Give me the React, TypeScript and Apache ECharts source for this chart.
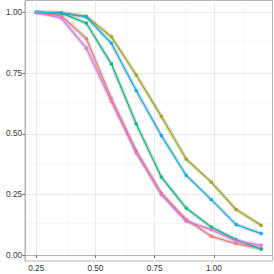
import React, { useEffect, useRef } from "react";
import * as echarts from "echarts";

const xValues = [0.25, 0.356, 0.461, 0.567, 0.672, 0.778, 0.883, 0.989, 1.094, 1.2];
const seriesNames = ["A", "B", "C", "D", "E"];
const seriesColors = ["#F8766D", "#A3A500", "#00BF7D", "#00B0F6", "#E76BF3"];
const redValues = [1.0, 0.986, 0.892, 0.645, 0.43, 0.255, 0.147, 0.078, 0.048, 0.027];
const oliveValues = [1.0, 0.997, 0.984, 0.9, 0.742, 0.572, 0.396, 0.301, 0.188, 0.123];
const greenValues = [1.0, 0.997, 0.956, 0.788, 0.541, 0.322, 0.194, 0.116, 0.064, 0.025];
const blueValues = [1.0, 0.997, 0.981, 0.873, 0.678, 0.493, 0.329, 0.229, 0.126, 0.089];
const pinkValues = [1.0, 0.976, 0.853, 0.634, 0.422, 0.25, 0.14, 0.105, 0.059, 0.041];
const allValues = [redValues, oliveValues, greenValues, blueValues, pinkValues];

const xTicks = [0.25, 0.5, 0.75, 1.0];
const yTicks = [0, 0.25, 0.5, 0.75, 1.0];
const xMinor = [0.375, 0.625, 0.875, 1.125];
const yMinor = [0.125, 0.375, 0.625, 0.875];

export default function App() {
  const ref = useRef<HTMLDivElement>(null);
  useEffect(() => {
    if (!ref.current) return;
    const chart = echarts.init(ref.current, undefined, { renderer: "svg" });
    const pairs = (vals: number[]) => xValues.map((x, i) => [x, vals[i]]);
    const gridLines: any[] = [
      ...xMinor.map((v) => ({ xAxis: v, lineStyle: { color: "#f4f4f4", width: 0.6, type: "solid" } })),
      ...yMinor.map((v) => ({ yAxis: v, lineStyle: { color: "#f4f4f4", width: 0.6, type: "solid" } })),
      ...xTicks.map((v) => ({ xAxis: v, lineStyle: { color: "#ebebeb", width: 1, type: "solid" } })),
      ...yTicks.map((v) => ({ yAxis: v, lineStyle: { color: "#ebebeb", width: 1, type: "solid" } })),
    ];
    const series: any[] = [
      {
        type: "line",
        name: "grid",
        data: [],
        symbol: "none",
        silent: true,
        z: 0,
        markLine: {
          z: 0,
          silent: true,
          symbol: ["none", "none"],
          label: { show: false },
          animation: false,
          data: gridLines,
        },
      },
      ...allValues.map((vals, i) => ({
        type: "line",
        name: seriesNames[i] + "_band",
        data: pairs(vals),
        symbol: "none",
        lineStyle: { color: "rgba(150,150,150,0.3)", width: 4 },
        silent: true,
        z: 1,
      })),
      ...allValues.map((vals, i) => ({
        type: "line",
        name: seriesNames[i],
        data: pairs(vals),
        symbol: "rect",
        symbolSize: 3,
        showSymbol: true,
        itemStyle: { color: seriesColors[i] },
        lineStyle: { color: seriesColors[i], width: 1.3 },
        z: 2,
      })),
    ];
    chart.setOption({
      animation: false,
      grid: {
        left: 25,
        right: 1.5,
        top: 0.5,
        bottom: 13,
        show: true,
        borderColor: "#b3b3b3",
        borderWidth: 1,
        containLabel: false,
      },
      xAxis: {
        type: "value",
        min: 0.2025,
        max: 1.2475,
        axisLine: { show: true, lineStyle: { color: "#b3b3b3", width: 1 } },
        axisTick: { show: true, length: 2.5, lineStyle: { color: "#666" }, customValues: xTicks },
        axisLabel: {
          show: true,
          customValues: xTicks,
          formatter: (v: number) => v.toFixed(2),
          color: "#333333",
          fontSize: 8.2,
          fontFamily: "Liberation Sans, Arial, sans-serif",
          margin: 3,
        },
        splitLine: { show: false },
      },
      yAxis: {
        type: "value",
        min: -0.02375,
        max: 1.04875,
        axisLine: { show: true, lineStyle: { color: "#b3b3b3", width: 1 } },
        axisTick: { show: true, length: 2.5, lineStyle: { color: "#666" }, customValues: yTicks },
        axisLabel: {
          show: true,
          customValues: yTicks,
          formatter: (v: number) => v.toFixed(2),
          color: "#333333",
          fontSize: 8.2,
          fontFamily: "Liberation Sans, Arial, sans-serif",
          margin: 3,
        },
        splitLine: { show: false },
      },
      series,
    });
    return () => chart.dispose();
  }, []);
  return <div ref={ref} style={{ width: 274, height: 274, position: "absolute", left: 0, top: 0 }} />;
}
